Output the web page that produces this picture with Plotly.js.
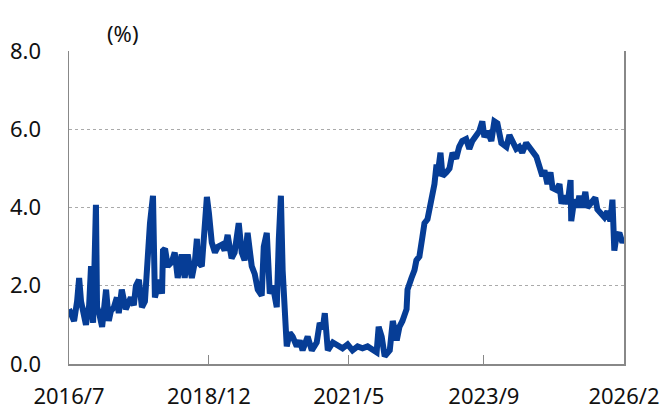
<!DOCTYPE html>
<html>
<head>
<meta charset="utf-8">
<script src="https://cdn.plot.ly/plotly-3.0.1.min.js"></script>
<style>html,body{margin:0;padding:0;background:#fff;}#chart{width:664px;height:412px;}</style>
</head>
<body>
<div id="chart"></div>
<script>
const dates = ['2016-07-01','2016-07-13','2016-08-02','2016-08-21','2016-09-03','2016-09-15','2016-10-04','2016-10-16','2016-11-05','2016-11-17','2016-11-30','2016-12-18','2016-12-25','2017-01-07','2017-01-26','2017-02-20','2017-03-09','2017-03-22','2017-04-10','2017-04-29','2017-05-11','2017-05-30','2017-06-24','2017-07-13','2017-07-26','2017-08-14','2017-08-27','2017-09-15','2017-10-04','2017-10-23','2017-11-05','2017-11-24','2017-12-13','2017-12-25','2018-01-07','2018-01-20','2018-02-08','2018-02-14','2018-02-27','2018-03-16','2018-04-10','2018-04-29','2018-05-18','2018-06-12','2018-07-01','2018-07-20','2018-08-15','2018-09-03','2018-09-16','2018-09-22','2018-10-17','2018-10-30','2018-11-18','2018-12-01','2018-12-19','2019-01-08','2019-01-27','2019-02-21','2019-03-10','2019-03-29','2019-04-23','2019-05-12','2019-06-07','2019-06-26','2019-07-14','2019-08-02','2019-08-28','2019-09-16','2019-10-05','2019-10-30','2019-11-12','2019-12-01','2019-12-20','2020-01-08','2020-02-02','2020-02-15','2020-02-28','2020-03-10','2020-03-23','2020-04-05','2020-04-24','2020-05-12','2020-06-07','2020-06-26','2020-07-14','2020-08-15','2020-09-10','2020-10-11','2020-10-30','2020-11-18','2020-12-01','2020-12-20','2021-01-21','2021-02-21','2021-03-23','2021-04-24','2021-05-25','2021-06-26','2021-07-27','2021-08-28','2021-09-29','2021-10-24','2021-11-06','2021-11-25','2021-12-14','2022-01-15','2022-02-03','2022-02-28','2022-03-17','2022-04-05','2022-05-01','2022-05-07','2022-06-01','2022-06-20','2022-07-02','2022-07-21','2022-08-09','2022-08-22','2022-09-10','2022-09-23','2022-10-12','2022-10-24','2022-11-06','2022-11-12','2022-12-01','2022-12-14','2023-01-08','2023-01-27','2023-02-15','2023-03-10','2023-03-29','2023-04-17','2023-05-12','2023-06-01','2023-06-20','2023-07-15','2023-08-03','2023-08-22','2023-09-04','2023-09-23','2023-10-18','2023-11-06','2023-11-25','2023-12-20','2024-01-21','2024-02-09','2024-02-28','2024-03-23','2024-04-11','2024-04-30','2024-05-25','2024-06-14','2024-07-03','2024-07-28','2024-08-16','2024-09-04','2024-09-17','2024-10-06','2024-10-25','2024-11-07','2024-12-02','2024-12-21','2025-01-03','2025-01-22','2025-02-10','2025-03-01','2025-03-05','2025-03-24','2025-04-12','2025-04-25','2025-05-14','2025-06-02','2025-06-15','2025-07-09','2025-08-04','2025-08-17','2025-09-11','2025-09-30','2025-10-19','2025-11-07','2025-11-20','2025-12-02','2025-12-15','2026-01-03','2026-01-22','2026-02-01'];
const rates = [1.4,1.25,1.1,1.6,2.2,1.6,1.3,1.0,1.5,2.5,1.05,4.07,1.45,1.3,0.95,1.9,1.1,1.35,1.45,1.7,1.3,1.9,1.4,1.55,1.7,1.5,2.0,2.15,1.45,1.6,2.6,3.6,4.3,1.7,1.9,2.15,1.8,2.9,2.95,2.5,2.6,2.85,2.2,2.8,2.2,2.8,2.2,2.6,3.2,2.6,2.5,3.1,4.27,3.85,3.1,2.85,3.0,3.05,2.9,3.3,2.7,2.85,3.6,2.85,2.65,3.35,2.5,2.3,1.9,1.75,3.0,3.35,1.8,2.0,1.45,3.2,4.3,2.4,1.3,0.45,0.8,0.7,0.45,0.6,0.35,0.7,0.35,0.55,1.05,0.9,1.3,0.35,0.55,0.45,0.4,0.5,0.35,0.45,0.4,0.45,0.35,0.3,0.95,0.7,0.2,0.35,1.1,0.6,0.95,1.1,1.4,1.9,2.2,2.4,2.65,2.75,3.25,3.6,3.7,3.95,4.27,4.6,5.1,4.8,5.4,4.8,4.9,5.0,5.4,5.25,5.55,5.7,5.75,5.5,5.7,5.85,5.95,6.2,5.8,5.95,5.7,6.2,6.15,5.65,5.55,5.85,5.7,5.5,5.55,5.4,5.65,5.55,5.4,5.3,5.05,4.8,4.95,4.6,4.9,4.5,4.45,4.6,4.1,4.3,4.1,4.7,3.65,4.2,4.0,4.3,4.0,4.4,4.0,4.1,4.25,3.95,3.85,3.75,3.9,3.65,4.2,2.9,3.25,3.35,3.1,3.2];
const tickDates = ['2016-07-01','2018-12-01','2021-05-01','2023-09-01','2026-02-01'];
const tickLabels = ['2016/7','2018/12','2021/5','2023/9','2026/2'];
const yTicks = [0,2,4,6,8];
const yLabels = ['0.0','2.0','4.0','6.0','8.0'];

const font = 'Noto Sans, Open Sans, sans-serif';
Plotly.newPlot('chart', [{
  x: dates, y: rates, type: 'scatter', mode: 'lines',
  line: {color: '#063d96', width: 6, shape: 'linear'},
  hoverinfo: 'skip'
}], {
  width: 664, height: 412,
  margin: {l: 69, r: 40, t: 51, b: 48},
  paper_bgcolor: '#fff', plot_bgcolor: '#fff',
  showlegend: false,
  font: {family: font, size: 22, color: '#111'},
  xaxis: {
    type: 'date', range: ['2016-07-01','2026-02-01'],
    tickmode: 'array', tickvals: tickDates, ticktext: tickLabels,
    ticks: 'inside', ticklen: 9, tickwidth: 1, tickcolor: '#888',
    showgrid: false, zeroline: false,
    showline: true, linecolor: '#888', linewidth: 1.5,
    ticklabelstandoff: 12,
    tickfont: {family: font, size: 22, color: '#111'}
  },
  yaxis: {
    range: [0, 8], tickmode: 'array', tickvals: yTicks, ticktext: yLabels,
    ticks: '', showgrid: true, gridcolor: '#aaa', griddash: 'dot', gridwidth: 1,
    zeroline: false, showline: true, linecolor: '#888', linewidth: 1.5, mirror: true,
    ticklabelstandoff: 22,
    tickfont: {family: font, size: 22, color: '#111'}
  },
  annotations: [{
    text: '(%)', xref: 'paper', yref: 'paper', x: 0.096, y: 1.0575,
    xanchor: 'center', yanchor: 'middle', showarrow: false,
    font: {family: font, size: 22, color: '#111'}
  }]
}, {staticPlot: true, displayModeBar: false});
</script>
</body>
</html>
